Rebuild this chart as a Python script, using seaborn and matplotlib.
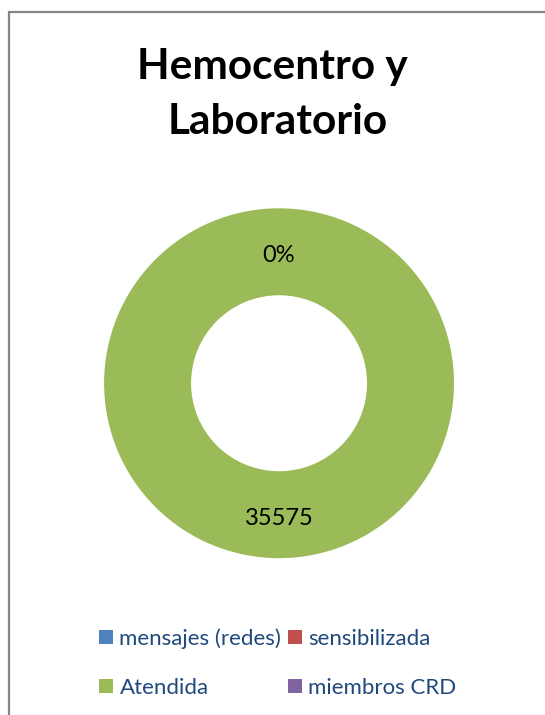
import seaborn as sns
from matplotlib import pyplot as plt
from matplotlib.patches import Rectangle
import numpy as np

categorias = ["mensajes (redes)", "sensibilizada", "Atendida", "miembros CRD"]
valores = [0, 0, 35575, 0]
etiquetas = ["0%", "", "35575", ""]
colores = ["#4F81BD", "#C0504D", "#9BBB59", "#8064A2"]

sns.set_style("white")
plt.rcParams['font.family'] = ['Lato', 'DejaVu Sans']

fig = plt.figure(figsize=(5.45, 7.15), dpi=100)
ax = fig.add_axes([0.191, 0.219, 0.642, 0.49])

wedges, _ = ax.pie(valores, colors=colores, startangle=90, counterclock=False,
                   radius=1.0, wedgeprops=dict(width=0.497, linewidth=0))
ax.set_xlim(-1, 1)
ax.set_ylim(-1, 1)
ax.set_aspect("equal")

r_mid = 1.0 - 0.497 / 2
for w, txt in zip(wedges, etiquetas):
    if not txt:
        continue
    ang = np.deg2rad((w.theta1 + w.theta2) / 2)
    ax.text(r_mid * np.cos(ang), r_mid * np.sin(ang) - 0.02, txt,
            ha="center", va="center", fontsize=17, color="black")

fig.text(0.51, 0.868, "Hemocentro y \nLaboratorio", ha="center", va="center",
         fontsize=30.5, fontweight="bold", linespacing=1.55, color="black",
         multialignment="center")

orden = [0, 2, 1, 3]  # la leyenda se llena por filas
fig.legend([wedges[i] for i in orden], [categorias[i] for i in orden],
           loc="lower left", bbox_to_anchor=(0.145, -0.004),
           ncol=2, frameon=False, fontsize=16, labelcolor="#1F497D",
           handlelength=0.62, handleheight=0.62, handletextpad=0.3,
           columnspacing=0.3, labelspacing=1.3)

# borde del area del grafico
fig.patches.append(Rectangle((8.5 / 545, -0.05), 1.2, 1.0 - 11.5 / 715 + 0.05,
                             transform=fig.transFigure, fill=False,
                             edgecolor="#868686", linewidth=1.6))

fig.savefig("out.png", dpi=100)
